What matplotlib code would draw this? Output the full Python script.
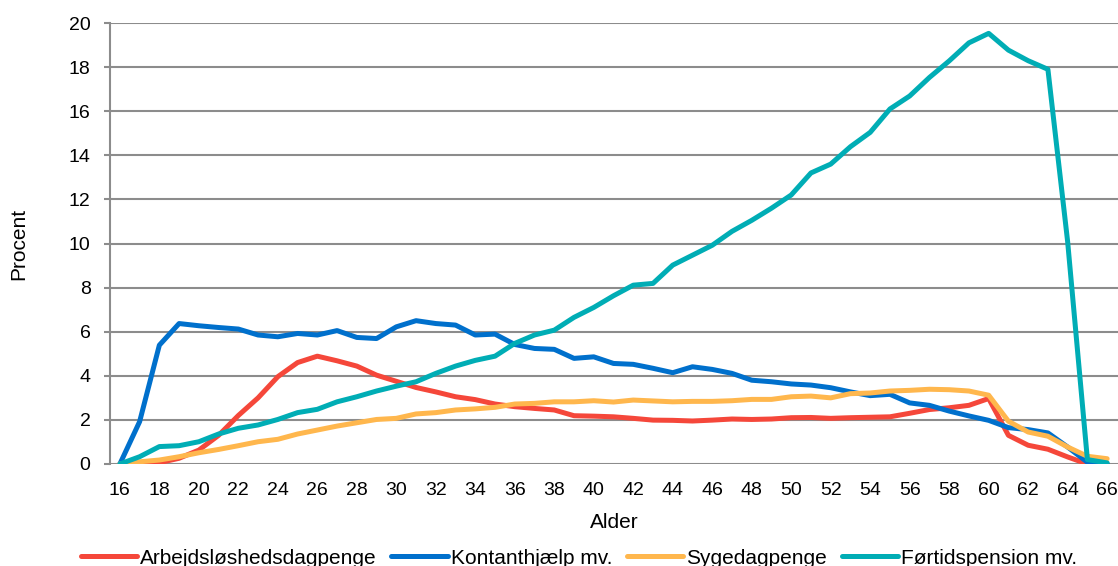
import matplotlib
matplotlib.use("Agg")
import matplotlib.pyplot as plt

plt.rcParams['font.family'] = ['Liberation Sans', 'DejaVu Sans']

ages = list(range(16, 67))

arbejdsloeshed = [0.0, 0.02, 0.06, 0.26, 0.63, 1.3, 2.2, 3.0, 3.96, 4.6,
                  4.89, 4.68, 4.44, 4.03, 3.75, 3.47, 3.27, 3.05, 2.92, 2.72,
                  2.6, 2.52, 2.45, 2.19, 2.17, 2.14, 2.07, 1.99, 1.98, 1.95,
                  1.99, 2.04, 2.02, 2.04, 2.1, 2.11, 2.07, 2.1, 2.12, 2.14,
                  2.3, 2.47, 2.55, 2.66, 2.97, 1.3, 0.85, 0.67, 0.32, 0.0,
                  0.0]

kontanthjaelp = [0.0, 1.92, 5.39, 6.37, 6.27, 6.19, 6.12, 5.85, 5.77, 5.92,
                 5.85, 6.05, 5.74, 5.69, 6.22, 6.5, 6.37, 6.3, 5.85, 5.89,
                 5.42, 5.24, 5.2, 4.79, 4.86, 4.56, 4.52, 4.34, 4.14, 4.41,
                 4.29, 4.11, 3.8, 3.73, 3.63, 3.58, 3.46, 3.27, 3.1, 3.16,
                 2.77, 2.66, 2.4, 2.18, 1.98, 1.65, 1.56, 1.41, 0.77, 0.08,
                 0.0]

sygedagpenge = [0.0, 0.1, 0.18, 0.33, 0.51, 0.66, 0.83, 1.01, 1.12, 1.36,
                1.54, 1.72, 1.87, 2.02, 2.07, 2.27, 2.33, 2.45, 2.5, 2.57,
                2.72, 2.75, 2.82, 2.82, 2.87, 2.81, 2.9, 2.86, 2.82, 2.84,
                2.84, 2.87, 2.93, 2.93, 3.05, 3.08, 3.0, 3.19, 3.22, 3.31,
                3.34, 3.39, 3.37, 3.31, 3.12, 1.94, 1.45, 1.26, 0.77, 0.35,
                0.24]

foertidspension = [0.0, 0.33, 0.79, 0.83, 1.01, 1.36, 1.62, 1.77, 2.02, 2.33,
                   2.48, 2.82, 3.05, 3.31, 3.53, 3.73, 4.11, 4.44, 4.7, 4.89,
                   5.47, 5.85, 6.07, 6.65, 7.1, 7.63, 8.11, 8.19, 9.02, 9.47,
                   9.92, 10.55, 11.05, 11.6, 12.2, 13.2, 13.6, 14.39, 15.04, 16.1,
                   16.69, 17.53, 18.28, 19.1, 19.53, 18.77, 18.29, 17.9, 10.08, 0.2,
                   0.05]

series = [
    ("Arbejdsløshedsdagpenge", arbejdsloeshed, "#F5473A"),
    ("Kontanthjælp mv.", kontanthjaelp, "#0070CC"),
    ("Sygedagpenge", sygedagpenge, "#FFB74D"),
    ("Førtidspension mv.", foertidspension, "#00ADB5"),
]

fig = plt.figure(figsize=(11.18, 5.66), dpi=100)
ax = fig.add_axes([110 / 1118, 1 - 464 / 566, 1008 / 1118, 441 / 566])

for name, vals, col in series:
    ax.plot(ages, vals, color=col, lw=3.6, label=name, solid_capstyle='round',
            solid_joinstyle='round', zorder=3)

ax.set_xlim(15.5, 66.55)
ax.set_ylim(0, 20)
ax.set_xticks(range(16, 67, 2))
ax.set_yticks(range(0, 21, 2))
ax.grid(axis='y', color='#8c8c8c', lw=1.5, zorder=1)
ax.set_axisbelow(True)

for s in ['top', 'right', 'bottom']:
    ax.spines[s].set_visible(False)
ax.spines['left'].set_color('#8c8c8c')
ax.spines['left'].set_linewidth(1.5)

ax.tick_params(axis='y', length=4, width=1.5, color='#8c8c8c', pad=10, labelsize=14)
ax.tick_params(axis='x', length=0, pad=13, labelsize=14)

ax.set_xlabel("Alder", fontsize=15, labelpad=10)
ax.set_ylabel("Procent", fontsize=15)
ax.yaxis.set_label_coords(-82 / 1008, 0.5)

fig.legend(loc='center', bbox_to_anchor=(579 / 1118, 1 - 558 / 566), ncol=4, frameon=False,
           fontsize=15, handlelength=2.7, handletextpad=0.15, columnspacing=0.7,
           borderaxespad=0)

fig.savefig("out.png", dpi=100)
